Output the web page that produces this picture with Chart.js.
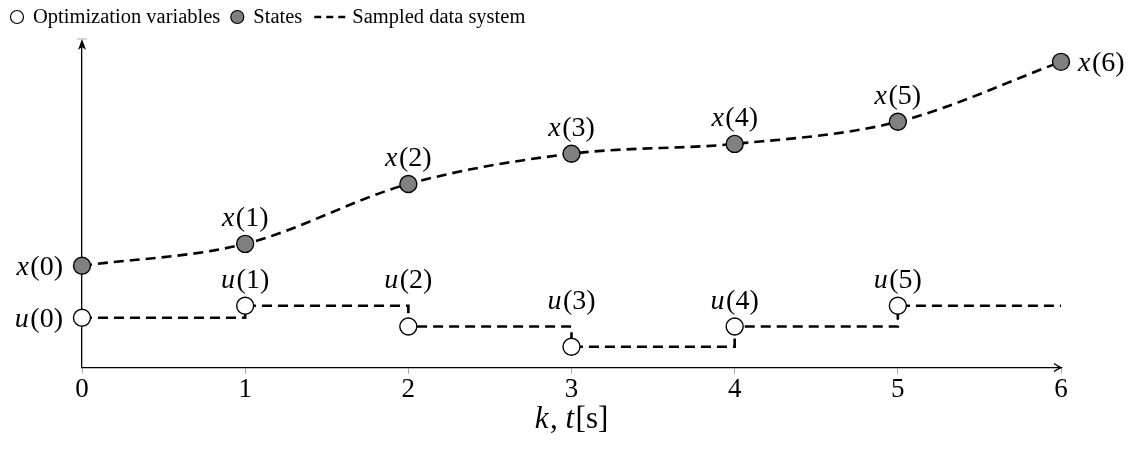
<!DOCTYPE html>
<html>
<head>
<meta charset="utf-8">
<script src="https://cdn.jsdelivr.net/npm/chart.js@4.4.1/dist/chart.umd.min.js"></script>
<style>
  html, body { margin: 0; padding: 0; background: #fff; }
  #wrap { width: 1144px; height: 457px; }
</style>
</head>
<body>
<div id="wrap"><canvas id="myChart" width="1144" height="457"></canvas></div>
<script>
// sample instants k and the values at each of them
const steps = [0, 1, 2, 3, 4, 5, 6];
const stateValues = [3.13, 3.8, 5.64, 6.57, 6.87, 7.55, 9.39];
const inputSteps = [0, 1, 2, 3, 4, 5];
const inputValues = [1.53, 1.9, 1.26, 0.64, 1.26, 1.9];
const holdEnd = 6; // last input is held until here
const tickLabels = ["0", "1", "2", "3", "4", "5", "6"];
const legendLabels = ["Optimization variables", "States", "Sampled data system"];

const SERIF = '"Liberation Serif", "DejaVu Serif", serif';
const GRAY = "#808080";
const LABEL_SIZE = 28;

// write e.g. x(3) with an italic letter and upright index
function mathText(ctx, parts, x, y, align, size) {
  let total = 0;
  const widths = parts.map(p => {
    ctx.font = (p.it ? "italic " : "") + size + "px " + SERIF;
    const w = ctx.measureText(p.t).width + (p.it ? 1.5 : 0);
    total += w;
    return w;
  });
  let cx = align === "right" ? x - total : align === "center" ? x - total / 2 : x;
  ctx.textAlign = "left";
  ctx.textBaseline = "alphabetic";
  parts.forEach((p, i) => {
    ctx.font = (p.it ? "italic " : "") + size + "px " + SERIF;
    ctx.fillText(p.t, cx, y);
    cx += widths[i];
  });
}

const pointLabels = {
  id: "pointLabels",
  afterDatasetsDraw(chart) {
    const ctx = chart.ctx;
    ctx.save();
    ctx.fillStyle = "#000";
    const letters = ["x", "u"];
    [0, 1].forEach(di => {
      const meta = chart.getDatasetMeta(di);
      const n = di === 0 ? stateValues.length : inputValues.length;
      for (let i = 0; i < n; i++) {
        const p = meta.data[i];
        const parts = [{ t: letters[di], it: true }, { t: "(" + i + ")" }];
        if (i === 0) {
          mathText(ctx, parts, p.x - 19, p.y + 9, "right", LABEL_SIZE);
        } else if (di === 0 && i === n - 1) {
          mathText(ctx, parts, p.x + 17, p.y + 9, "left", LABEL_SIZE);
        } else {
          // inputs: keep the label clear of the step coming in from the left
          const top = di === 1 ? Math.min(p.y, meta.data[i - 1].y) : p.y;
          mathText(ctx, parts, p.x, top - 18, "center", LABEL_SIZE);
        }
      }
    });
    ctx.restore();
  }
};

const axisDecor = {
  id: "axisDecor",
  afterDraw(chart) {
    const ctx = chart.ctx;
    const xs = chart.scales.x, ys = chart.scales.y;
    const x0 = xs.left, y0 = ys.bottom;
    ctx.save();
    ctx.strokeStyle = "#000";
    ctx.fillStyle = "#000";
    ctx.lineWidth = 1.3;
    // arrow heads
    ctx.beginPath();
    ctx.moveTo(x0, ys.top - 3);
    ctx.lineTo(x0 - 4, ys.top + 8);
    ctx.lineTo(x0, ys.top + 5);
    ctx.lineTo(x0 + 4, ys.top + 8);
    ctx.closePath();
    ctx.fill();
    ctx.beginPath();
    ctx.moveTo(xs.right - 7, y0 - 4);
    ctx.quadraticCurveTo(xs.right - 3, y0 - 1, xs.right, y0);
    ctx.quadraticCurveTo(xs.right - 3, y0 + 1, xs.right - 7, y0 + 4);
    ctx.stroke();
    // small tick at the top of the vertical axis
    ctx.strokeStyle = "#aaa";
    ctx.lineWidth = 1;
    ctx.beginPath();
    ctx.moveTo(x0 - 5, ys.top - 3);
    ctx.lineTo(x0 + 5, ys.top - 3);
    ctx.stroke();

    // axis title  k, t[s]
    ctx.fillStyle = "#000";
    mathText(ctx, [{ t: "k", it: true }, { t: ", " }, { t: "t", it: true }, { t: "[s]" }],
      (xs.left + xs.right) / 2, 428, "center", 31);

    // legend
    const ly = 17;
    let lx = 17;
    ctx.font = "20.5px " + SERIF;
    ctx.textBaseline = "middle";
    ctx.textAlign = "left";
    ctx.lineWidth = 1.2;
    ctx.strokeStyle = "#000";
    ctx.beginPath();
    ctx.arc(lx, ly, 6.5, 0, Math.PI * 2);
    ctx.fillStyle = "#fff";
    ctx.fill();
    ctx.stroke();
    ctx.fillStyle = "#000";
    lx += 16;
    ctx.fillText(legendLabels[0], lx, ly + 1);
    lx += ctx.measureText(legendLabels[0]).width + 17;
    ctx.beginPath();
    ctx.arc(lx, ly, 6.5, 0, Math.PI * 2);
    ctx.fillStyle = GRAY;
    ctx.fill();
    ctx.stroke();
    ctx.fillStyle = "#000";
    lx += 16;
    ctx.fillText(legendLabels[1], lx, ly + 1);
    lx += ctx.measureText(legendLabels[1]).width + 12;
    ctx.lineWidth = 2.6;
    ctx.setLineDash([7, 5]);
    ctx.beginPath();
    ctx.moveTo(lx, ly);
    ctx.lineTo(lx + 31, ly);
    ctx.stroke();
    ctx.setLineDash([]);
    lx += 38;
    ctx.fillText(legendLabels[2], lx, ly + 1);
    ctx.restore();
  }
};

const ctx = document.getElementById("myChart").getContext("2d");

new Chart(ctx, {
  type: "line",
  data: {
    datasets: [
      {
        label: legendLabels[1],
        data: steps.map((k, i) => ({ x: k, y: stateValues[i] })),
        borderColor: "#000",
        borderWidth: 2.6,
        borderDash: [10, 6],
        cubicInterpolationMode: "monotone",
        pointRadius: 8.5,
        pointBackgroundColor: GRAY,
        pointBorderColor: "#000",
        pointBorderWidth: 1.4,
        clip: false
      },
      {
        label: legendLabels[0],
        data: inputSteps.map((k, i) => ({ x: k, y: inputValues[i] }))
          .concat([{ x: holdEnd, y: inputValues[inputValues.length - 1] }]),
        borderColor: "#000",
        borderWidth: 2.6,
        borderDash: [10, 6],
        stepped: "before",
        pointRadius: inputSteps.map(() => 8.5).concat([0]),
        pointBackgroundColor: "#fff",
        pointBorderColor: "#000",
        pointBorderWidth: 1.4,
        clip: false
      }
    ]
  },
  options: {
    responsive: false,
    animation: false,
    layout: { padding: { left: 82, right: 83, top: 42, bottom: 51 } },
    plugins: {
      legend: { display: false },
      tooltip: { enabled: false }
    },
    scales: {
      x: {
        type: "linear",
        min: 0,
        max: 6,
        grid: { drawOnChartArea: false, drawTicks: true, tickLength: 6, color: "#aaa" },
        border: { display: true, color: "#000", width: 1.3 },
        ticks: {
          stepSize: 1,
          padding: 0,
          color: "#000",
          font: { family: SERIF, size: 27 },
          callback: (v) => tickLabels[v]
        }
      },
      y: {
        min: 0,
        max: 10,
        grid: { display: false, drawTicks: false },
        border: { display: true, color: "#000", width: 1.3 },
        ticks: { display: false }
      }
    }
  },
  plugins: [pointLabels, axisDecor]
});
</script>
</body>
</html>
